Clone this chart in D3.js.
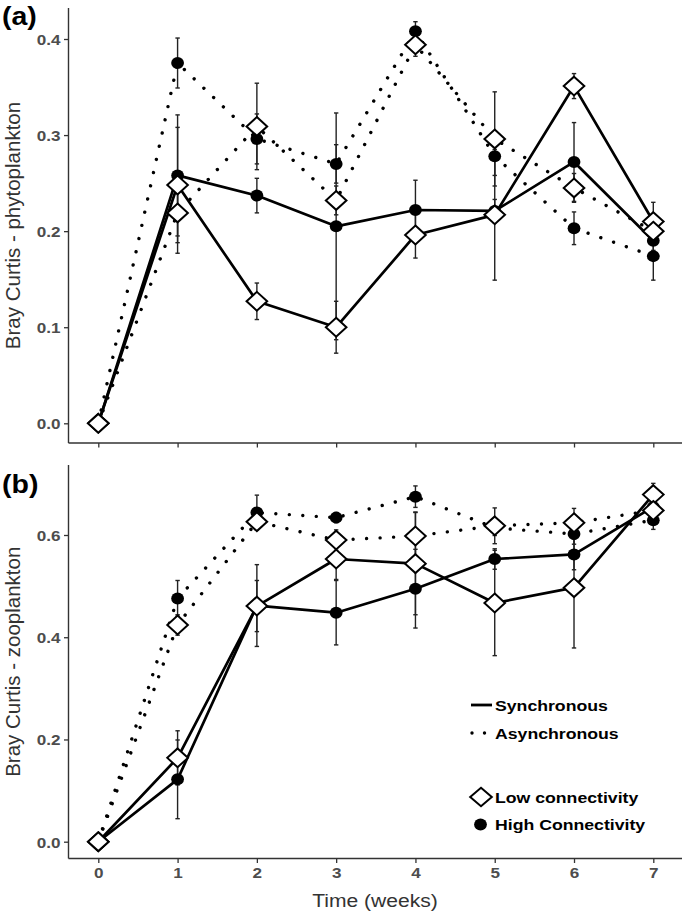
<!DOCTYPE html>
<html>
<head>
<meta charset="utf-8">
<script src="https://cdn.jsdelivr.net/npm/d3@7"></script>
<style>
  html, body { margin: 0; padding: 0; background: #fff; }
  svg { display: block; font-family: "Liberation Sans", Arial, Helvetica, sans-serif; }
</style>
</head>
<body>
<svg id="chart" width="685" height="914"></svg>
<script>
// ---------------- data ----------------
const weeks = [0, 1, 2, 3, 4, 5, 6, 7];
const xTickLabels = ["0", "1", "2", "3", "4", "5", "6", "7"];

// (a) phytoplankton
const phytoTicks = [0.0, 0.1, 0.2, 0.3, 0.4];
const phytoSyncLow      = [0, 0.248, 0.127, 0.100, 0.196, 0.217, 0.351, 0.210];
const phytoSyncLowSE    = [0, 0.060, 0.019, 0.027, 0.024, 0.068, 0.013, 0.020];
const phytoSyncHigh     = [0, 0.258, 0.237, 0.205, 0.222, 0.221, 0.272, 0.190];
const phytoSyncHighSE   = [0, 0.063, 0.018, 0.118, 0.031, 0.012, 0.041, 0.010];
const phytoAsyncLow     = [0, 0.219, 0.309, 0.232, 0.394, 0.296, 0.245, 0.200];
const phytoAsyncLowSE   = [0, 0.042, 0.045, 0.015, 0.012, 0.049, 0.015, 0.010];
const phytoAsyncHigh    = [0, 0.375, 0.296, 0.270, 0.408, 0.278, 0.203, 0.174];
const phytoAsyncHighSE  = [0, 0.026, 0.026, 0.020, 0.010, 0.020, 0.017, 0.025];

// (b) zooplankton
const zooTicks = [0.0, 0.2, 0.4, 0.6];
const zooSyncLow        = [0, 0.164, 0.461, 0.553, 0.544, 0.467, 0.497, 0.679];
const zooSyncLowSE      = [0, 0.053, 0.050, 0.040, 0.100, 0.103, 0.118, 0.022];
const zooSyncHigh       = [0, 0.122, 0.462, 0.448, 0.495, 0.553, 0.562, 0.655];
const zooSyncHighSE     = [0, 0.077, 0.080, 0.063, 0.077, 0.020, 0.030, 0.015];
const zooAsyncLow       = [0, 0.424, 0.626, 0.590, 0.598, 0.618, 0.624, 0.648];
const zooAsyncLowSE     = [0, 0.020, 0.015, 0.020, 0.047, 0.035, 0.028, 0.015];
const zooAsyncHigh      = [0, 0.476, 0.644, 0.634, 0.675, 0.614, 0.602, 0.629];
const zooAsyncHighSE    = [0, 0.035, 0.034, 0.010, 0.021, 0.015, 0.020, 0.018];

const legendLines = ["Synchronous", "Asynchronous"];
const legendShapes = ["Low connectivity", "High Connectivity"];

// ---------------- layout ----------------
const SX = 1.14;            // horizontal stretch of the original figure
const svg = d3.select("#chart");
const axisColor = "#333";
const tickTextColor = "#4d4d4d";
const axisX = 68.5, axisRight = 682;

const x = d3.scaleLinear().domain([0, 7]).range([98.3, 653.3]);

function buildSeries(vals, se, sync, high) {
  return { sync, high, pts: weeks.map((w, i) => ({ w, v: vals[i], se: se[i] })) };
}

const panels = [
  {
    label: "(a)", labelY: 25, title: "Bray Curtis - phytoplankton",
    top: 8, bottom: 443,
    y: d3.scaleLinear().domain([0, 0.4]).range([423.3, 39]),
    ticks: phytoTicks, showXLabels: false,
    series: [
      buildSeries(phytoSyncLow, phytoSyncLowSE, true, false),
      buildSeries(phytoSyncHigh, phytoSyncHighSE, true, true),
      buildSeries(phytoAsyncLow, phytoAsyncLowSE, false, false),
      buildSeries(phytoAsyncHigh, phytoAsyncHighSE, false, true)
    ]
  },
  {
    label: "(b)", labelY: 493, title: "Bray Curtis - zooplankton",
    top: 465, bottom: 858.5,
    y: d3.scaleLinear().domain([0, 0.6]).range([841.7, 535]),
    ticks: zooTicks, showXLabels: true,
    series: [
      buildSeries(zooSyncLow, zooSyncLowSE, true, false),
      buildSeries(zooSyncHigh, zooSyncHighSE, true, true),
      buildSeries(zooAsyncLow, zooAsyncLowSE, false, false),
      buildSeries(zooAsyncHigh, zooAsyncHighSE, false, true)
    ]
  }
];

const DW = 10.3, DH = 9.4;
const diamondPath = `M0,${-DH}L${DW},0L0,${DH}L${-DW},0Z`;

panels.forEach(p => {
  const g = svg.append("g");
  const y = p.y;

  // y axis
  const yAxis = d3.axisLeft(y).tickValues(p.ticks).tickFormat(d3.format(".1f"))
    .tickSize(4.5).tickSizeOuter(0).tickPadding(3);
  const ya = g.append("g").attr("transform", `translate(${axisX},0)`).call(yAxis);
  ya.select(".domain").remove();
  ya.selectAll(".tick line").attr("stroke", axisColor).attr("stroke-width", 1.3);
  ya.selectAll(".tick text")
    .attr("x", -8 / SX).attr("dy", "0.36em")
    .attr("transform", `scale(${SX},1)`)
    .attr("fill", tickTextColor).attr("font-size", 15).attr("font-weight", "bold")
    .attr("font-family", "Liberation Sans, Arial, sans-serif");

  // x axis
  const xAxis = d3.axisBottom(x).tickValues(weeks)
    .tickFormat((d, i) => p.showXLabels ? xTickLabels[i] : "")
    .tickSize(4.5).tickSizeOuter(0).tickPadding(3);
  const xa = g.append("g").attr("transform", `translate(0,${p.bottom})`).call(xAxis);
  xa.select(".domain").remove();
  xa.selectAll(".tick line").attr("stroke", axisColor).attr("stroke-width", 1.3);
  xa.selectAll(".tick text")
    .attr("y", 9).attr("dy", "0.71em")
    .attr("transform", `scale(${SX},1)`)
    .attr("fill", tickTextColor).attr("font-size", 15).attr("font-weight", "bold")
    .attr("font-family", "Liberation Sans, Arial, sans-serif");

  // axis lines
  g.append("line").attr("x1", axisX).attr("x2", axisX).attr("y1", p.top).attr("y2", p.bottom)
    .attr("stroke", axisColor).attr("stroke-width", 1.4);
  g.append("line").attr("x1", axisX).attr("x2", axisRight).attr("y1", p.bottom).attr("y2", p.bottom)
    .attr("stroke", axisColor).attr("stroke-width", 1.4);

  // error bars
  p.series.forEach(s => {
    const eb = g.append("g");
    s.pts.filter(d => d.se > 0).forEach(d => {
      const y1 = y(d.v - d.se), y2 = y(d.v + d.se), cx = x(d.w);
      eb.append("line").attr("x1", cx).attr("x2", cx).attr("y1", y1).attr("y2", y2)
        .attr("stroke", "#222").attr("stroke-width", 1.4);
      [y1, y2].forEach(yy => eb.append("line").attr("x1", cx - 2.2).attr("x2", cx + 2.2)
        .attr("y1", yy).attr("y2", yy).attr("stroke", "#222").attr("stroke-width", 1.4));
    });
  });

  // lines
  const line = d3.line().x(d => x(d.w)).y(d => y(d.v));
  p.series.forEach(s => {
    const path = g.append("path").datum(s.pts).attr("d", line)
      .attr("fill", "none").attr("stroke", "#000");
    if (s.sync) {
      path.attr("stroke-width", 2.7).attr("stroke-linejoin", "round");
    } else {
      path.attr("stroke-width", 3.4).attr("stroke-linecap", "round")
        .attr("stroke-dasharray", "0.01 13.5");
    }
  });

  // circles (high connectivity)
  p.series.filter(s => s.high).forEach(s => {
    g.append("g").selectAll("ellipse").data(s.pts).join("ellipse")
      .attr("cx", d => x(d.w)).attr("cy", d => y(d.v))
      .attr("rx", 6.4).attr("ry", 6).attr("fill", "#000");
  });
  // diamonds (low connectivity)
  p.series.filter(s => !s.high).forEach(s => {
    g.append("g").selectAll("path").data(s.pts).join("path")
      .attr("d", diamondPath)
      .attr("transform", d => `translate(${x(d.w)},${y(d.v)})`)
      .attr("fill", "#fff").attr("stroke", "#000").attr("stroke-width", 2);
  });

  // panel label
  svg.append("text").attr("transform", `translate(2,${p.labelY}) scale(${SX},1)`)
    .attr("font-size", 25).attr("font-weight", "bold").attr("fill", "#000").text(p.title ? p.label : "");

  // y title
  const cy = (p.top + p.bottom) / 2;
  svg.append("text").attr("transform", `translate(20,${cy}) rotate(-90)`)
    .attr("text-anchor", "middle").attr("font-size", 20.5).attr("fill", "#333").text(p.title);
});

// x title
svg.append("text").attr("transform", `translate(375,907) scale(${SX},1)`)
  .attr("text-anchor", "middle").attr("font-size", 18.5).attr("fill", "#333").text("Time (weeks)");

// legend
const lg = svg.append("g");
const legendTextX = 495;
const lineRowsY = [705, 733];
lineRowsY.forEach((ly, i) => {
  const l = lg.append("line").attr("x1", 471).attr("x2", 492).attr("y1", ly).attr("y2", ly)
    .attr("stroke", "#000");
  if (i === 0) l.attr("stroke-width", 2.8);
  else l.attr("x1", 472).attr("x2", 486).attr("stroke-width", 3.4).attr("stroke-linecap", "round").attr("stroke-dasharray", "0.01 12.5");
  lg.append("text").attr("transform", `translate(${legendTextX},${ly + 5.6}) scale(${SX},1)`)
    .attr("font-size", 15.5).attr("font-weight", "bold").attr("fill", "#000").text(legendLines[i]);
});
const shapeRowsY = [797, 824.5];
lg.append("path").attr("d", `M0,-9.2L10.8,0L0,9.2L-10.8,0Z`).attr("transform", `translate(481,${shapeRowsY[0]})`)
  .attr("fill", "#fff").attr("stroke", "#000").attr("stroke-width", 2);
lg.append("ellipse").attr("cx", 480.5).attr("cy", shapeRowsY[1]).attr("rx", 6.4).attr("ry", 6).attr("fill", "#000");
shapeRowsY.forEach((ly, i) => {
  lg.append("text").attr("transform", `translate(${legendTextX},${ly + 5.6}) scale(${SX},1)`)
    .attr("font-size", 15.5).attr("font-weight", "bold").attr("fill", "#000").text(legendShapes[i]);
});
</script>
</body>
</html>
